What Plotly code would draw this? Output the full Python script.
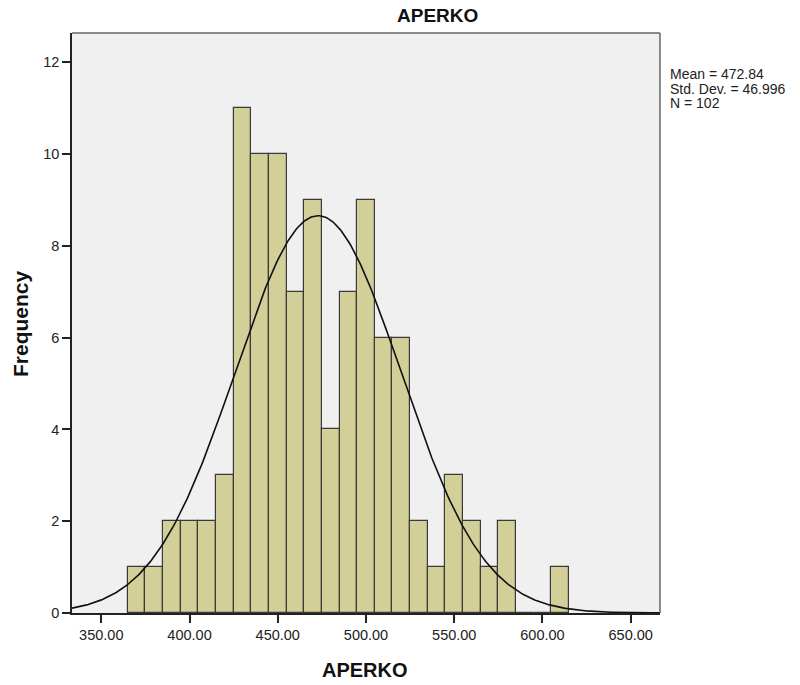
import numpy as np
import plotly.graph_objects as go

# ---- data ----
bin_starts = [365, 375, 385, 395, 405, 415, 425, 435, 445, 455, 465, 475, 485,
              495, 505, 515, 525, 535, 545, 555, 565, 575, 585, 595, 605]
counts = [1, 1, 2, 2, 2, 3, 11, 10, 10, 7, 9, 4, 7,
          9, 6, 6, 2, 1, 3, 2, 1, 2, 0, 0, 1]
bin_width = 10
mean_val = 472.84
std_val = 46.996
n_val = 102
x_ticks = [350, 400, 450, 500, 550, 600, 650]
y_ticks = [0, 2, 4, 6, 8, 10, 12]
x_range = [333.4, 666.6]
y_range = [0, 12.64]

FONT = "Liberation Sans, Arial, sans-serif"

centers = [s + bin_width / 2 for s in bin_starts]

fig = go.Figure()
fig.add_trace(go.Bar(
    x=centers, y=counts, width=bin_width,
    marker=dict(color="#D3CF98", line=dict(color="#3a3a3a", width=1.2)),
    hoverinfo="x+y",
))

xc = np.linspace(x_range[0], x_range[1], 400)
yc = n_val * bin_width * np.exp(-0.5 * ((xc - mean_val) / std_val) ** 2) / (std_val * np.sqrt(2 * np.pi))
fig.add_trace(go.Scatter(x=xc, y=yc, mode="lines",
                         line=dict(color="#111111", width=1.6), hoverinfo="skip"))

L, R, T, B = 72, 140, 33, 72
W, H = 800, 685
pw, ph = W - L - R, H - T - B


def px(xp):
    return (xp - L) / pw


def py(yp):
    return (H - B - yp) / ph


fig.update_layout(
    width=W, height=H,
    margin=dict(l=L, r=R, t=T, b=B),
    paper_bgcolor="white", plot_bgcolor="#F0F0F0",
    showlegend=False, bargap=0,
    font=dict(family=FONT, color="#222222", size=14),
)
fig.update_xaxes(
    range=x_range, tickvals=x_ticks, tickformat=".2f",
    ticks="outside", ticklen=8, tickwidth=1.5, tickcolor="#222",
    showline=True, linecolor="#222", linewidth=1.5,
    showgrid=False, zeroline=False,
    tickfont=dict(size=14.5, family=FONT, color="#222"),
)
fig.update_yaxes(
    range=y_range, tickvals=y_ticks,
    ticks="outside", ticklen=8, tickwidth=1.5, tickcolor="#222",
    showline=True, linecolor="#222", linewidth=1.5,
    showgrid=False, zeroline=False,
    tickfont=dict(size=14.5, family=FONT, color="#222"),
)

# top and right border
fig.add_shape(type="line", xref="paper", yref="paper", x0=0, x1=1, y0=1, y1=1,
              line=dict(color="#666666", width=1.5))
fig.add_shape(type="line", xref="paper", yref="paper", x0=1, x1=1, y0=0, y1=1,
              line=dict(color="#666666", width=1.5))

# titles
fig.add_annotation(text="<b>APERKO</b>", xref="paper", yref="paper",
                   x=px(437), y=py(15), xanchor="center", yanchor="middle",
                   showarrow=False, font=dict(size=19, family=FONT, color="#111"))
fig.add_annotation(text="<b>APERKO</b>", xref="paper", yref="paper",
                   x=px(365), y=py(670), xanchor="center", yanchor="middle",
                   showarrow=False, font=dict(size=20, family=FONT, color="#111"))
fig.add_annotation(text="<b>Frequency</b>", xref="paper", yref="paper",
                   x=px(21), y=py(324), xanchor="center", yanchor="middle",
                   showarrow=False, textangle=-90,
                   font=dict(size=21, family=FONT, color="#111"))

# statistics box: small base font so lines are ~14.5px apart, glyphs at 14px
stats = [f"Mean = {mean_val:.2f}", f"Std. Dev. = {std_val:.3f}", f"N = {n_val}"]
stats_text = "<br>".join(f'<span style="font-size:14px">{s}</span>' for s in stats)
fig.add_annotation(text=stats_text, xref="paper", yref="paper",
                   x=px(668), y=py(88.5), xanchor="left", yanchor="middle",
                   align="left", showarrow=False,
                   font=dict(size=11.2, family=FONT, color="#222"))

fig.write_html("out.html")
